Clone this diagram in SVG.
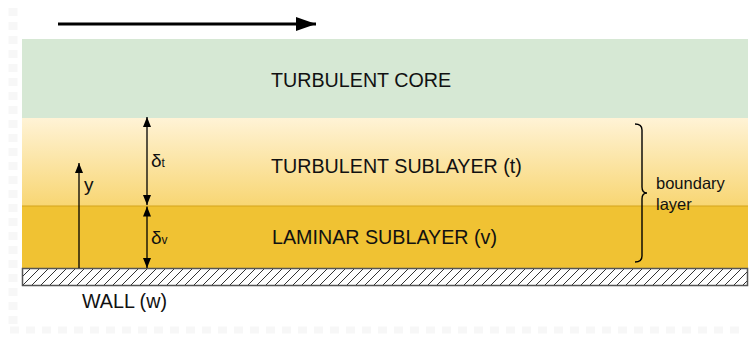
<svg xmlns="http://www.w3.org/2000/svg" width="753" height="338" viewBox="0 0 753 338">
  <defs>
    <linearGradient id="subGrad" x1="0" y1="0" x2="0" y2="1">
      <stop offset="0" stop-color="#fff3d6"/>
      <stop offset="1" stop-color="#f8d673"/>
    </linearGradient>
    <pattern id="hatch" patternUnits="userSpaceOnUse" width="9" height="18" x="22" y="268">
      <path d="M-9 18 L9 0 M0 18 L18 0" stroke="#333" stroke-width="1"/>
    </pattern>
    <marker id="head" viewBox="0 0 10 10" refX="10" refY="5" markerWidth="10" markerHeight="10" markerUnits="userSpaceOnUse" orient="auto">
      <path d="M0 1 L10 5 L0 9 Z" fill="#000"/>
    </marker>
    <marker id="bigHead" viewBox="0 0 20 14" refX="20" refY="7" markerWidth="20" markerHeight="14" markerUnits="userSpaceOnUse" orient="auto">
      <path d="M0 0 L20 7 L0 14 Z" fill="#000"/>
    </marker>
  </defs>
  <style>
    .lbl { font-family: "Liberation Sans", Arial, sans-serif; font-size: 19.7px; fill: #111; }
    .sym { font-family: "Liberation Sans", Arial, sans-serif; font-size: 19px; fill: #111; }
    .sm { font-family: "Liberation Sans", Arial, sans-serif; font-size: 16.5px; fill: #111; }
    .conn { stroke: #000; stroke-width: 1.3; fill: none; }
  </style>

  <!-- faint backdrop tiles -->
  <path d="M13 8 V326" stroke="#f7f7f7" stroke-width="9" stroke-dasharray="8 6"/>
  <path d="M10 330 H745" stroke="#f7f7f7" stroke-width="7" stroke-dasharray="9 7"/>

  <!-- flow direction -->
  <g id="flow-arrow">
    <line x1="58" y1="24" x2="316" y2="24" stroke="#000" stroke-width="3.2" marker-end="url(#bigHead)"/>
  </g>

  <g id="turbulent-core">
    <rect x="22" y="39" width="726" height="79" fill="#d6e8d4"/>
    <text class="lbl" x="271" y="87">TURBULENT CORE</text>
  </g>

  <g id="turbulent-sublayer">
    <rect x="22" y="118" width="726" height="88" fill="url(#subGrad)"/>
    <text class="lbl" x="271" y="173">TURBULENT SUBLAYER (t)</text>
  </g>

  <g id="laminar-sublayer">
    <rect x="22" y="206" width="726" height="62" fill="#f0c233"/>
    <line x1="22" y1="206" x2="748" y2="206" stroke="#d4a41c" stroke-width="1.2"/>
    <text class="lbl" x="272" y="244">LAMINAR SUBLAYER (v)</text>
  </g>

  <g id="wall">
    <rect x="22.5" y="268.5" width="725" height="17" fill="url(#hatch)" stroke="#555" stroke-width="1.5"/>
    <text class="lbl" x="82" y="308">WALL (w)</text>
  </g>

  <g id="connectors">
    <!-- y coordinate -->
    <line class="conn" x1="79" y1="268" x2="79" y2="163" marker-end="url(#head)"/>
    <!-- delta t -->
    <line class="conn" x1="147" y1="161" x2="147" y2="117" marker-end="url(#head)"/>
    <line class="conn" x1="147" y1="161" x2="147" y2="205" marker-end="url(#head)"/>
    <!-- delta v -->
    <line class="conn" x1="147" y1="237" x2="147" y2="206.5" marker-end="url(#head)"/>
    <line class="conn" x1="147" y1="237" x2="147" y2="268" marker-end="url(#head)"/>
    <!-- boundary layer brace -->
    <path d="M635 124 Q642 124 642 130 V187 Q642 193 647 193 Q642 193 642 199 V256 Q642 262 635 262" stroke="#000" stroke-width="1.4" fill="none"/>
  </g>

  <g id="labels">
    <text class="sym" x="84" y="191">y</text>
    <text class="sym" x="151" y="167">δ<tspan font-size="12">t</tspan></text>
    <text class="sym" x="151" y="244">δ<tspan font-size="12">v</tspan></text>
    <text class="sm" x="656" y="189">boundary</text>
    <text class="sm" x="656" y="210">layer</text>
  </g>
</svg>
